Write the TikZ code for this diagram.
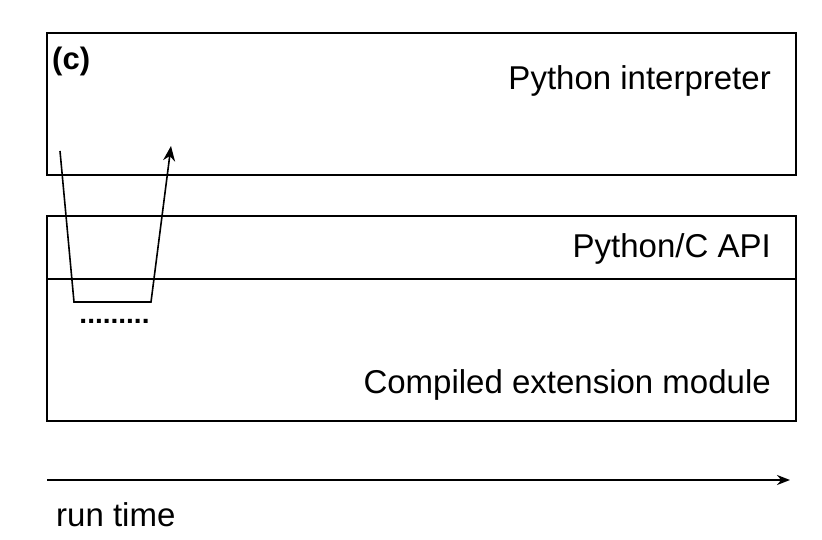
\documentclass[tikz,border=0pt]{standalone}
\usepackage{fontspec}
\setmainfont{Liberation Sans}
\usetikzlibrary{arrows.meta,positioning,calc}

\begin{document}
\begin{tikzpicture}[>={Stealth[length=13pt,width=10pt]},x=1pt,y=-1pt,
layer/.style={rectangle,draw,line width=1.6pt,inner sep=0pt},
lbl/.style={font=\fontsize{33}{36}\selectfont,inner sep=0pt,anchor=base east},
call/.style={line width=1.6pt,line join=miter,-{Stealth[length=15pt,width=12pt]}}]
\useasboundingbox (0,0) rectangle (822,540);
\node[layer,minimum width=749pt,minimum height=142pt] (interp) at (421.5,104) {};
\node[layer,minimum width=749pt,minimum height=63pt] (capi) at (421.5,247.5) {};
\node[layer,minimum width=749pt,minimum height=142pt] (ext) at (421.5,350) {};
\node[font=\fontsize{31}{34}\selectfont\bfseries,inner sep=0pt,anchor=base west] (tag) at (52,70) {(c)};
\node[lbl] (interpname) at (771,90) {Python interpreter};
\node[lbl] (capiname) at (771,258) {Python/C API};
\node[lbl] (extname) at (771,393) {Compiled extension module};
\node[font=\fontsize{28}{30}\selectfont\bfseries,inner sep=0pt] (dots) at (114.5,321) {.........};
\coordinate (c1) at (60,151);
\coordinate (c2) at (74,302);
\coordinate (c3) at (151,302);
\coordinate (c4) at (171,146);
\draw[call] (c1)--(c2)--(c3)--(c4);
\coordinate (t0) at (47,480);
\coordinate (t1) at (790,480);
\draw[line width=2.6pt,->] (t0)--(t1);
\node[font=\fontsize{33}{36}\selectfont,inner sep=0pt,anchor=base west] (tlabel) at (56,526) {run time};
\end{tikzpicture}
\end{document}
